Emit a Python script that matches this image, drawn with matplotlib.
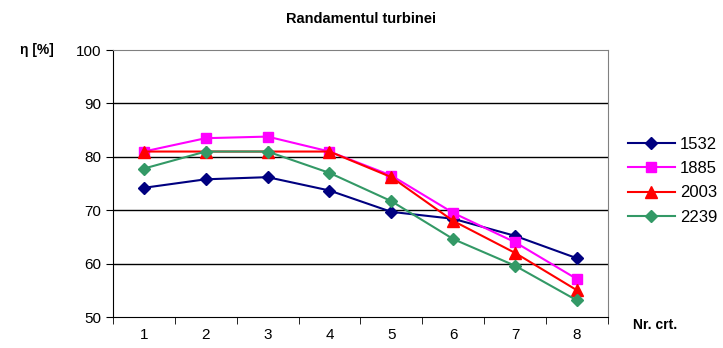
import numpy as np
import matplotlib
matplotlib.use("Agg")
import matplotlib.pyplot as plt

plt.rcParams['font.family'] = ['Liberation Sans', 'DejaVu Sans']

# Date
nr_crt = [1, 2, 3, 4, 5, 6, 7, 8]
s1532 = [74.2, 75.8, 76.2, 73.7, 69.7, 68.4, 65.2, 61.0]
s1885 = [81.0, 83.5, 83.8, 81.0, 76.5, 69.5, 64.0, 57.1]
s2003 = [81.0, 81.0, 81.0, 81.0, 76.2, 68.0, 62.0, 55.0]
s2239 = [77.8, 81.0, 81.0, 77.0, 71.7, 64.6, 59.6, 53.1]
etichete = ['1532', '1885', '2003', '2239']

fig = plt.figure(figsize=(7.23, 3.48), dpi=100)
ax = fig.add_axes([0.156, 0.089, 0.685, 0.767])

ax.plot(nr_crt, s1532, color='#000080', marker='D', ms=6, lw=1.5, label=etichete[0])
ax.plot(nr_crt, s1885, color='#FF00FF', marker='s', ms=7, lw=1.5, label=etichete[1])
ax.plot(nr_crt, s2003, color='#FF0000', marker='^', ms=9, lw=1.5, label=etichete[2])
ax.plot(nr_crt, s2239, color='#339966', marker='D', ms=6, lw=1.5, label=etichete[3])

ax.set_xlim(0.5, 8.5)
ax.set_ylim(50, 100)
ax.set_yticks([50, 60, 70, 80, 90, 100])
ax.set_xticks(nr_crt)
ax.set_xticks(np.arange(0.5, 9, 1), minor=True)
ax.tick_params(axis='x', which='major', length=0, labelsize=11, pad=8)
ax.tick_params(axis='x', which='minor', length=5, direction='out', color='#000000')
ax.tick_params(axis='y', length=5, direction='out', labelsize=11)

for y in [60, 70, 80, 90]:
    ax.axhline(y, color='#000000', lw=1, zorder=0)

for side in ['top', 'right']:
    ax.spines[side].set_color('#808080')
ax.spines['left'].set_color('#000000')
ax.spines['bottom'].set_color('#000000')

fig.text(0.5, 0.945, 'Randamentul turbinei', ha='center', va='center',
         fontsize=10.5, fontweight='bold')
fig.text(0.028, 0.855, 'η [%]', ha='left', va='center', fontsize=10, fontweight='bold')
fig.text(0.875, 0.065, 'Nr. crt.', ha='left', va='center', fontsize=10, fontweight='bold')

ax.legend(loc='center left', bbox_to_anchor=(1.01, 0.51), frameon=False,
          fontsize=12, handlelength=2.8, labelspacing=0.55, handletextpad=0.3)

fig.savefig('out.png', dpi=100)
